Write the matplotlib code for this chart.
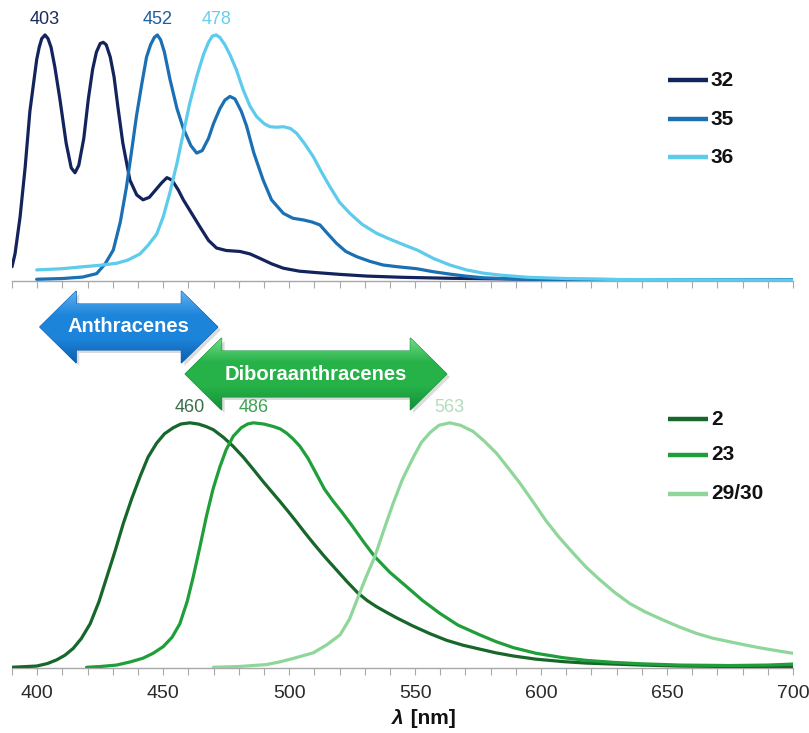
import numpy as np
import matplotlib
matplotlib.use("Agg")
import matplotlib.pyplot as plt
from matplotlib.patches import Polygon
from matplotlib.ticker import MultipleLocator, FuncFormatter

plt.rcParams['font.family'] = ['Liberation Sans', 'DejaVu Sans']

# ---------------- data (normalised emission) ----------------
top_labels = ["32", "35", "36"]
top_peaks = ["403", "452", "478"]

wl_32 = [390, 391.2, 393.2, 395.2, 397.1, 399.8, 400.8, 401.8, 403.1, 404.3, 405.5, 407, 409, 411.5,
         413.5, 415, 416.5, 418.5, 420.3, 422, 423.5, 425, 426.2, 427.4, 429, 430.5, 432, 434,
         436.8, 439.5, 442, 444.5, 447, 449.5, 451.5, 453.5, 456, 458, 461, 464.6, 468, 471.2, 475,
         480.5, 484.5, 488.4, 493, 497.7, 504, 511, 520, 530.8, 545, 563.8, 600, 650, 700]
in_32 = [0.058, 0.11, 0.26, 0.46, 0.69, 0.90, 0.95, 0.985, 1.0, 0.985, 0.95, 0.87, 0.74, 0.56,
         0.46, 0.44, 0.47, 0.58, 0.74, 0.86, 0.93, 0.965, 0.97, 0.96, 0.91, 0.83, 0.71, 0.56,
         0.41, 0.35, 0.33, 0.34, 0.37, 0.40, 0.42, 0.41, 0.37, 0.33, 0.28, 0.22, 0.165, 0.134, 0.124,
         0.12, 0.11, 0.092, 0.07, 0.052, 0.04, 0.034, 0.027, 0.02, 0.015, 0.011, 0.007, 0.005, 0.005]

wl_35 = [399.8, 410, 418, 423.6, 427, 430.2, 433, 435.4, 437.5, 439.4, 441.5, 443.4, 445, 446.5,
         447.7, 449, 450.5, 452.7, 455.5, 458, 461, 463.3, 465.5, 468, 470, 472.5, 474.5, 476.5,
         478.5, 481, 483.1, 486, 489.7, 493, 497.7, 501.5, 505.7, 509, 512.2, 515.5, 518.8, 522.5,
         526.8, 532, 537.3, 543, 550.6, 557, 563.8, 570, 577, 590, 610, 700]
in_35 = [0.007, 0.01, 0.016, 0.03, 0.07, 0.126, 0.24, 0.38, 0.53, 0.67, 0.80, 0.91, 0.96, 0.99,
         1.0, 0.98, 0.93, 0.82, 0.70, 0.62, 0.55, 0.52, 0.53, 0.58, 0.64, 0.70, 0.735, 0.75,
         0.74, 0.69, 0.63, 0.52, 0.41, 0.33, 0.275, 0.255, 0.248, 0.24, 0.228, 0.19, 0.153, 0.12,
         0.099, 0.08, 0.065, 0.058, 0.05, 0.038, 0.028, 0.02, 0.013, 0.008, 0.005, 0.004]

wl_36 = [399.8, 410, 418.3, 425, 431.5, 436, 440.8, 444, 447.4, 450, 452.7, 455.5, 458, 460.5,
         463.3, 466, 468, 469.5, 471, 472.5, 474.5, 476.5, 479, 481.8, 484.5, 487.1, 490, 492.4, 495,
         497.7, 500.5, 503, 506, 509.6, 513, 516.2, 520, 524.1, 529, 534.7, 540, 545.3, 551, 557.2,
         563.8, 570.4, 577, 583.7, 595, 610, 630, 700]
in_36 = [0.045, 0.05, 0.058, 0.064, 0.072, 0.085, 0.11, 0.145, 0.19, 0.26, 0.36, 0.48, 0.60, 0.72,
         0.83, 0.92, 0.97, 0.995, 1.0, 0.99, 0.96, 0.92, 0.86, 0.776, 0.71, 0.668, 0.64, 0.627, 0.625,
         0.627, 0.62, 0.60, 0.56, 0.505, 0.44, 0.383, 0.32, 0.275, 0.23, 0.194, 0.17, 0.148, 0.125,
         0.092, 0.065, 0.045, 0.032, 0.024, 0.015, 0.01, 0.006, 0.004]

bot_labels = ["2", "23", "29/30"]
bot_peaks = ["460", "486", "563"]

wl_2 = [390, 399.8, 404, 407.7, 411, 414.3, 417.5, 421, 424.5, 427.6, 431, 434.2, 437.5, 440.8,
        444, 447.4, 450.5, 454, 457, 460.6, 464, 467, 469.9, 474, 477.8, 481.8, 485.8, 489.7, 493,
        496.3, 499.5, 503, 506, 509.6, 514, 518.8, 523, 527.4, 531, 534.7, 538.5, 542.6, 549, 555.9,
        562.5, 569, 575.7, 582, 589, 598, 608.8, 618, 628.7, 640, 655, 675, 700]
in_2 = [0.003, 0.008, 0.018, 0.033, 0.052, 0.08, 0.12, 0.18, 0.27, 0.37, 0.48, 0.59, 0.69, 0.78,
        0.86, 0.917, 0.955, 0.98, 0.995, 1.0, 0.995, 0.985, 0.972, 0.94, 0.904, 0.86, 0.81, 0.76, 0.72,
        0.68, 0.64, 0.595, 0.555, 0.509, 0.455, 0.40, 0.352, 0.305, 0.275, 0.25, 0.228, 0.205, 0.172,
        0.14, 0.113, 0.093, 0.077, 0.062, 0.049, 0.036, 0.026, 0.02, 0.016, 0.012, 0.008, 0.006, 0.005]

wl_23 = [419.6, 425, 431.5, 437, 442, 446, 450, 453.5, 456.6, 459.5, 461.9, 464.5, 467.2, 469.8,
         472.5, 475, 477.8, 481, 483.5, 485.8, 490, 493.7, 496.5, 499, 501.5, 504.3, 507.5, 510.9,
         514, 517.5, 521, 525, 529.5, 534, 540, 546.6, 553, 559.8, 567, 575.7, 582, 589, 598, 608.8,
         618, 628.7, 640, 655, 675, 690, 700]
in_23 = [0.003, 0.006, 0.012, 0.025, 0.04, 0.06, 0.087, 0.125, 0.18, 0.27, 0.37, 0.49, 0.62, 0.73,
         0.82, 0.89, 0.945, 0.98, 0.995, 1.0, 0.995, 0.985, 0.975, 0.958, 0.935, 0.904, 0.855, 0.79,
         0.73, 0.68, 0.635, 0.58, 0.515, 0.454, 0.39, 0.332, 0.275, 0.223, 0.175, 0.135, 0.108, 0.083,
         0.06, 0.042, 0.031, 0.023, 0.017, 0.012, 0.01, 0.012, 0.016]

wl_29 = [469.9, 480, 491, 496.3, 502, 509.6, 515, 520.2, 524, 527.4, 530.5, 534, 537.5, 541.3, 545,
         549.3, 552.5, 555.9, 559.5, 563.8, 568, 573, 577.5, 582.3, 587, 591.6, 597, 602, 607, 612.6,
         618, 623.3, 629, 635.2, 641.5, 648.4, 655, 661.7, 668, 674.9, 681.5, 688.1, 694, 700]
in_29 = [0.003, 0.006, 0.014, 0.025, 0.04, 0.062, 0.095, 0.135, 0.2, 0.29, 0.37, 0.454, 0.56, 0.672,
         0.77, 0.86, 0.92, 0.96, 0.99, 1.0, 0.99, 0.965, 0.925, 0.876, 0.815, 0.754, 0.675, 0.60,
         0.535, 0.47, 0.41, 0.36, 0.31, 0.263, 0.228, 0.196, 0.167, 0.141, 0.122, 0.107, 0.093,
         0.08, 0.07, 0.06]

peak_wl_top = [403.1, 447.7, 471.0]      # positions of maxima in the picture
peak_wl_bot = [460.6, 485.8, 563.8]

arrow_labels = ["Anthracenes", "Diboraanthracenes"]
arrow_start = [401.0, 458.7]
arrow_end = [471.7, 562.6]

# ---------------- styles ----------------
top_colors = ["#13235c", "#1b6fb3", "#5ccbec"]
top_text_colors = ["#1a2a5e", "#1d5f9e", "#66cfee"]
bot_colors = ["#17662a", "#1f9e3a", "#8fd69a"]
bot_text_colors = ["#3b6f4a", "#3aa253", "#b4dcbc"]
arrow_colors = [("#5fb0f2", "#1c84da", "#0c5fb0"), ("#6fdc84", "#27b249", "#14903a")]
axis_grey = "#a8a8a8"

W, H = 809, 733
fig = plt.figure(figsize=(W / 100, H / 100), dpi=100)

def frac(x0, y0, x1, y1):
    return [x0 / W, 1 - y1 / H, (x1 - x0) / W, (y1 - y0) / H]

XMIN, XMAX = 390, 700
YTOP = 1.142

ax_top = fig.add_axes(frac(12, 0, 793, 281))
ax_bot = fig.add_axes(frac(12, 388, 793, 668))

for ax in (ax_top, ax_bot):
    ax.set_xlim(XMIN, XMAX)
    ax.set_ylim(0, YTOP)
    for s in ("top", "right", "left"):
        ax.spines[s].set_visible(False)
    ax.spines["bottom"].set_color(axis_grey)
    ax.spines["bottom"].set_linewidth(1.0)
    ax.set_yticks([])
    ax.xaxis.set_major_locator(MultipleLocator(10))
    ax.tick_params(axis="x", direction="out", length=5, width=0.8, color=axis_grey,
                   labelsize=14, labelcolor="#2a2a2a", pad=7)
    ax.patch.set_visible(False)

ax_top.set_xticklabels([])
ax_bot.xaxis.set_major_formatter(FuncFormatter(lambda v, p: f"{int(round(v))}" if int(round(v)) % 50 == 0 else ""))

top_series = [(wl_32, in_32), (wl_35, in_35), (wl_36, in_36)]
bot_series = [(wl_2, in_2), (wl_23, in_23), (wl_29, in_29)]

def draw_panel(ax, series, colors, tcolors, labels, peaks, peak_wl, leg_rows):
    for (wl, iv), c in zip(series, colors):
        ax.plot(wl, iv, color=c, lw=2.3, solid_joinstyle="round", solid_capstyle="round", zorder=3)
    for pw, txt, tc in zip(peak_wl, peaks, tcolors):
        ax.annotate(txt, (pw, 1.0), xytext=(0, 15), textcoords="offset pixels",
                    ha="center", va="center", fontsize=13, color=tc)
    for lab, c, yr in zip(labels, colors, leg_rows):
        ax.plot([0.840, 0.891], [yr, yr], transform=ax.transAxes, color=c, lw=3.2,
                solid_capstyle="butt", clip_on=False)
        ax.text(0.895, yr, lab, transform=ax.transAxes, ha="left", va="center",
                fontsize=15, fontweight="bold", color="#111111")

draw_panel(ax_top, top_series, top_colors, top_text_colors, top_labels, top_peaks, peak_wl_top,
           [0.714, 0.575, 0.440])
draw_panel(ax_bot, bot_series, bot_colors, bot_text_colors, bot_labels, bot_peaks, peak_wl_bot,
           [0.889, 0.761, 0.622])

# x label
fig.text(404 / W, 1 - 719 / H, "λ", fontsize=15, fontweight="bold", style="italic",
         ha="right", va="center", color="#111111")
fig.text(405 / W, 1 - 719 / H, " [nm]", fontsize=15, fontweight="bold",
         ha="left", va="center", color="#111111")

# ---------------- double arrows ----------------
ax_arr = fig.add_axes(frac(12, 285, 793, 420))
ax_arr.set_xlim(XMIN, XMAX)
ax_arr.set_ylim(420, 285)   # pixel rows
ax_arr.axis("off")
ax_arr.patch.set_visible(False)
ax_arr.set_zorder(5)

arrow_yc = [327, 374]
BODY, HEAD, HEADLEN = 23, 36, 14.5
for x0, x1, yc, lab, (cl, cm, cd) in zip(arrow_start, arrow_end, arrow_yc, arrow_labels, arrow_colors):
    pts = [(x0, yc), (x0 + HEADLEN, yc - HEAD), (x0 + HEADLEN, yc - BODY), (x1 - HEADLEN, yc - BODY),
           (x1 - HEADLEN, yc - HEAD), (x1, yc), (x1 - HEADLEN, yc + HEAD), (x1 - HEADLEN, yc + BODY),
           (x0 + HEADLEN, yc + BODY), (x0 + HEADLEN, yc + HEAD)]
    shadow = Polygon([(px + 1.2, py + 3) for px, py in pts], closed=True, fc="#b0b0b0",
                     ec="none", alpha=0.45, zorder=1)
    ax_arr.add_patch(shadow)
    poly = Polygon(pts, closed=True, fc=cm, ec=cd, lw=0.8, zorder=2)
    ax_arr.add_patch(poly)
    grad = np.linspace(0, 1, 100).reshape(-1, 1)
    cmap = matplotlib.colors.LinearSegmentedColormap.from_list("g", [cl, cm, cm, cd])
    im = ax_arr.imshow(grad, extent=(x0, x1, yc + HEAD, yc - HEAD), aspect="auto", cmap=cmap,
                       zorder=2.5, origin="upper")
    im.set_clip_path(poly)
    ax_arr.text((x0 + x1) / 2, yc, lab, ha="center", va="center", fontsize=14.5,
                fontweight="bold", color="white", zorder=4)

fig.savefig("out.png", dpi=100)
